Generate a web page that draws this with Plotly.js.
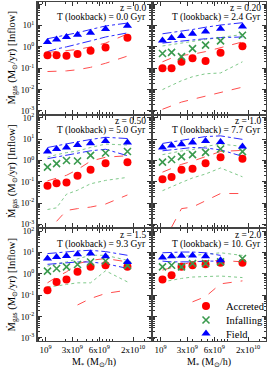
<!DOCTYPE html>
<html>
<head>
<meta charset="utf-8">
<script src="https://cdn.plot.ly/plotly-3.0.1.min.js"></script>
<style>html,body{margin:0;padding:0;background:#fff;}#chart{width:272px;height:375px;}</style>
</head>
<body>
<div id="chart"></div>
<script>
// ---- data ----
const stellarMass = [1.07e9, 1.46e9, 2.05e9, 2.99e9, 4.67e9, 7.80e9, 1.65e10];
const redshifts = ["0.0", "0.20", "0.50", "1.0", "1.5", "2.0"];
const lookback = ["0.0", "2.4", "5.0", "7.7", "9.3", "10."];

const field = [
  [1.7, 2.2, 2.9, 3.7, 4.6, 6.8, 9.6],
  [2.0, 2.6, 3.2, 4.1, 5.3, 7.0, 9.0],
  [2.6, 3.4, 4.0, 5.2, 6.3, 8.0, 6.8],
  [4.0, 5.0, 5.7, 6.8, 8.0, 7.2, 4.4],
  [5.2, 6.2, 6.9, 8.3, 8.9, 6.7, 3.6],
  [5.8, 6.7, 7.0, 7.3, 6.7, 4.3, null]
];
const fieldHigh = [
  [2.4, 2.9, 3.6, 4.6, 6.5, 9.5, 13],
  [4.1, 4.6, 5.5, 6.5, 8.3, 10.5, 13.5],
  [4.0, 4.7, 5.7, 7.4, 9.5, 12, 10.5],
  [6.2, 7.4, 8.7, 10.5, 13, 14, 9.6],
  [8.9, 9.8, 10.8, 11.8, 12.7, 11, 7.4],
  [9.7, 10.3, 10.5, 10.5, 9.7, 7.3, null]
];
const fieldLow = [
  [0.6, 0.8, 1.0, 1.3, 1.9, 2.9, 4.5],
  [1.5, 1.7, 1.9, 2.1, 2.4, 2.7, 2.9],
  [1.2, 1.45, 1.8, 2.3, 2.8, 3.3, 1.65],
  [2.8, 3.2, 3.5, 4.0, 3.8, 3.1, 1.55],
  [2.8, 3.0, 3.3, 3.6, 3.6, 3.0, 1.8],
  [3.95, 3.64, 3.64, 3.64, 3.95, 3.95, null]
];
const infalling = [
  [null, null, null, null, null, null, null],
  [0.49, 0.55, 0.35, 0.83, 1.2, 1.9, 3.5],
  [0.48, 0.7, 0.98, 0.93, 1.7, 2.2, 2.6],
  [0.83, 1.1, 1.5, 1.85, 2.35, 3.4, 2.55],
  [1.34, 1.78, 2.13, 2.73, 3.6, 4.0, 2.5],
  [2.13, 2.54, 2.13, 3.05, 3.05, 3.64, 5.21]
];
const infallingHigh = [
  [null, null, null, null, null, null, null],
  [1.1, 1.3, 1.5, 1.8, 2.2, 2.8, 3.8],
  [1.4, 1.85, 2.3, 2.75, 4.0, 5.8, 5.2],
  [1.85, 2.3, 2.75, 3.2, 4.5, 5.8, 4.5],
  [2.3, 3.0, 3.6, 4.9, 7.4, 7.4, 4.3],
  [5.2, 5.8, 6.7, 7.3, 8.2, 9.7, 7.3]
];
const infallingLow = [
  [null, null, null, null, null, null, null],
  [0.01, 0.016, 0.026, 0.04, 0.055, 0.06, 0.2],
  [0.005, 0.006, 0.026, 0.04, 0.08, 0.115, 0.16],
  [0.038, 0.06, 0.092, 0.15, 0.23, 0.44, 0.17],
  [0.25, 0.27, 0.32, 0.38, 0.38, 1.39, 0.42],
  [0.42, 0.51, 0.61, 0.71, 0.75, 0.79, 0.67]
];
const accreted = [
  [0.41, 0.41, 0.38, 0.46, 0.65, 0.93, 2.7],
  [0.1, 0.1, 0.2, 0.29, 0.22, 0.53, 1.07],
  [0.065, 0.085, 0.092, 0.19, 0.36, 0.74, 0.82],
  [0.13, 0.165, 0.36, 0.4, 0.74, 1.4, 1.2],
  [0.17, 0.42, 0.55, 1.24, 2.13, 2.54, 2.13],
  [0.55, 0.86, 2.13, 2.54, 2.81, 3.27, 3.27]
];
const accretedHigh = [
  [0.55, 0.6, 0.65, 0.75, 1.0, 1.5, 4],
  [0.2, 0.3, 0.4, 0.45, 0.6, 0.9, 1.7],
  [0.11, 0.15, 0.2, 0.37, 0.92, 1.4, 1.65],
  [0.28, 0.42, 0.65, 0.92, 1.5, 2.6, 2.95],
  [0.38, 0.71, 1.24, 2.98, 4.28, 5.21, 3.64],
  [1.5, 1.96, 2.81, 3.64, 3.95, 4.28, 3.64]
];
const accretedLow = [
  [0.07, 0.072, 0.075, 0.085, 0.11, 0.17, 0.37],
  [0.0012, 0.0018, 0.0026, 0.0035, 0.005, 0.007, 0.013],
  [null, 0.0014, 0.0045, 0.0055, 0.0065, 0.009, 0.024],
  [null, 0.00075, 0.0055, 0.0065, 0.013, 0.028, 0.028],
  [null, null, null, 0.035, 0.070, 0.121, 0.174],
  [null, null, null, 0.049, 0.086, 0.34, 0.47]
];
const legendNames = ["Accreted", "Infalling", "Field"];
const xTickVals = [1e9, 2.5e9, 6.3e9, 2e10];
const xTickText = ["10<sup>9</sup>", "3x10<sup>9</sup>", "6x10<sup>9</sup>", "2x10<sup>10</sup>"];
const yTickVals = [1e-3, 1e-2, 1e-1, 1, 10, 100];
const yTickText = ["10<sup>-3</sup>", "10<sup>-2</sup>", "10<sup>-1</sup>", "10<sup>0</sup>", "10<sup>1</sup>", "10<sup>2</sup>"];

// ---- layout helpers ----
const W = 272, H = 375;
const colPx = [[37.5, 150.5], [152.5, 265.5]];
const rowPx = [[2, 113.5], [115.5, 227], [229, 340.5]];
const SERIF = "Liberation Serif, Times New Roman, serif";
const RED = "#ff0000", GREEN = "#3a9a4e", BLUE = "#0000ff";

const xMinor = [];
for (let e = 8; e <= 10; e++) for (let m = 1; m <= 9; m++) xMinor.push(m * Math.pow(10, e));
const yMinor = [];
for (let e = -4; e <= 2; e++) for (let m = 2; m <= 9; m++) yMinor.push(m * Math.pow(10, e));

const traces = [];
function legendBox(yPx) {
  return {x: 186 / W, xanchor: "left", xref: "paper", y: 1 - yPx / H, yanchor: "middle", yref: "paper",
    bgcolor: "rgba(0,0,0,0)", borderwidth: 0,
    font: {family: SERIF, size: 10.5}, itemwidth: 30};
}
const layout = {
  width: W, height: H, margin: {l: 0, r: 0, t: 0, b: 0},
  paper_bgcolor: "#fff", plot_bgcolor: "#fff",
  font: {family: SERIF, color: "#000"},
  showlegend: true,
  legend: legendBox(306),
  legend2: legendBox(320),
  legend3: legendBox(333.5),
  annotations: []
};

for (let p = 0; p < 6; p++) {
  const r = Math.floor(p / 2), c = p % 2;
  const sfx = p === 0 ? "" : String(p + 1);
  const xa = "x" + sfx, ya = "y" + sfx;
  const xd = [colPx[c][0] / W, colPx[c][1] / W];
  const yd = [1 - rowPx[r][1] / H, 1 - rowPx[r][0] / H];
  layout["xaxis" + sfx] = {
    domain: xd, anchor: ya, type: "log", range: [8.881, 10.56],
    tickvals: xTickVals, ticktext: xTickText, showticklabels: r === 2,
    ticks: "inside", ticklen: 4, tickwidth: 1, tickcolor: "#333",
    mirror: "allticks", showline: true, linecolor: "#444", linewidth: 1.5,
    showgrid: false, zeroline: false,
    tickfont: {family: SERIF, size: 9},
    minor: {tickvals: xMinor, ticks: "inside", ticklen: 2, tickcolor: "#333", showgrid: false},
    title: r === 2 ? {text: "M<sub>*</sub> (M<sub>⊙</sub>/h)", font: {family: SERIF, size: 10}, standoff: 4} : {text: ""}
  };
  layout["yaxis" + sfx] = {
    domain: yd, anchor: xa, type: "log", range: [-3.12, 2.1],
    tickvals: yTickVals, ticktext: yTickText, showticklabels: c === 0,
    ticks: "inside", ticklen: 4, tickwidth: 1, tickcolor: "#333",
    mirror: "allticks", showline: true, linecolor: "#444", linewidth: 1.5,
    showgrid: false, zeroline: false,
    tickfont: {family: SERIF, size: 8.5},
    minor: {tickvals: yMinor, ticks: "inside", ticklen: 2, tickcolor: "#333", showgrid: false},
    title: c === 0 ? {text: "Ṁ<sub>gas</sub> (M<sub>⊙</sub>/yr) [Inflow]", font: {family: SERIF, size: 10.5}, standoff: 3} : {text: ""}
  };
  const right = (colPx[c][1] - 3) / W;
  layout.annotations.push({
    xref: "paper", yref: "paper", x: right, y: 1 - (rowPx[r][0] + 5.5) / H,
    xanchor: "right", yanchor: "middle", showarrow: false,
    text: "z = " + redshifts[p], font: {family: SERIF, size: 9.5}
  });
  layout.annotations.push({
    xref: "paper", yref: "paper", x: right, y: 1 - (rowPx[r][0] + 15.5) / H,
    xanchor: "right", yanchor: "middle", showarrow: false,
    text: "T (lookback) = " + lookback[p] + " Gyr", font: {family: SERIF, size: 9.5}
  });

  const line = (y, color, dash) => ({
    x: stellarMass, y: y, xaxis: xa, yaxis: ya, type: "scatter", mode: "lines",
    line: {color: color, dash: dash, width: 1}, showlegend: false, hoverinfo: "skip",
    connectgaps: false
  });
  traces.push(line(accretedHigh[p], "#ff4d4d", "dash"));
  traces.push(line(accretedLow[p], "#ff4d4d", "dash"));
  traces.push(line(infallingHigh[p], "#7fc98a", "dot"));
  traces.push(line(infallingLow[p], "#7fc98a", "dot"));
  traces.push(line(fieldHigh[p], "#2a2aff", "dashdot"));
  traces.push(line(fieldLow[p], "#2a2aff", "dashdot"));

  traces.push({x: stellarMass, y: accreted[p], xaxis: xa, yaxis: ya, type: "scatter", mode: "markers",
    name: legendNames[0], legend: "legend", showlegend: p === 5,
    marker: {symbol: "circle", size: 8, color: RED}});
  traces.push({x: stellarMass, y: infalling[p], xaxis: xa, yaxis: ya, type: "scatter", mode: "markers",
    name: legendNames[1], legend: "legend2", showlegend: p === 5,
    marker: {symbol: "x-thin", size: 7, color: GREEN, line: {color: GREEN, width: 1.6}}});
  traces.push({x: stellarMass, y: field[p], xaxis: xa, yaxis: ya, type: "scatter", mode: "markers",
    name: legendNames[2], legend: "legend3", showlegend: p === 5,
    marker: {symbol: "triangle-up", size: 8, color: BLUE}});
}

Plotly.newPlot("chart", traces, layout, {displayModeBar: false, staticPlot: true});
</script>
</body>
</html>
